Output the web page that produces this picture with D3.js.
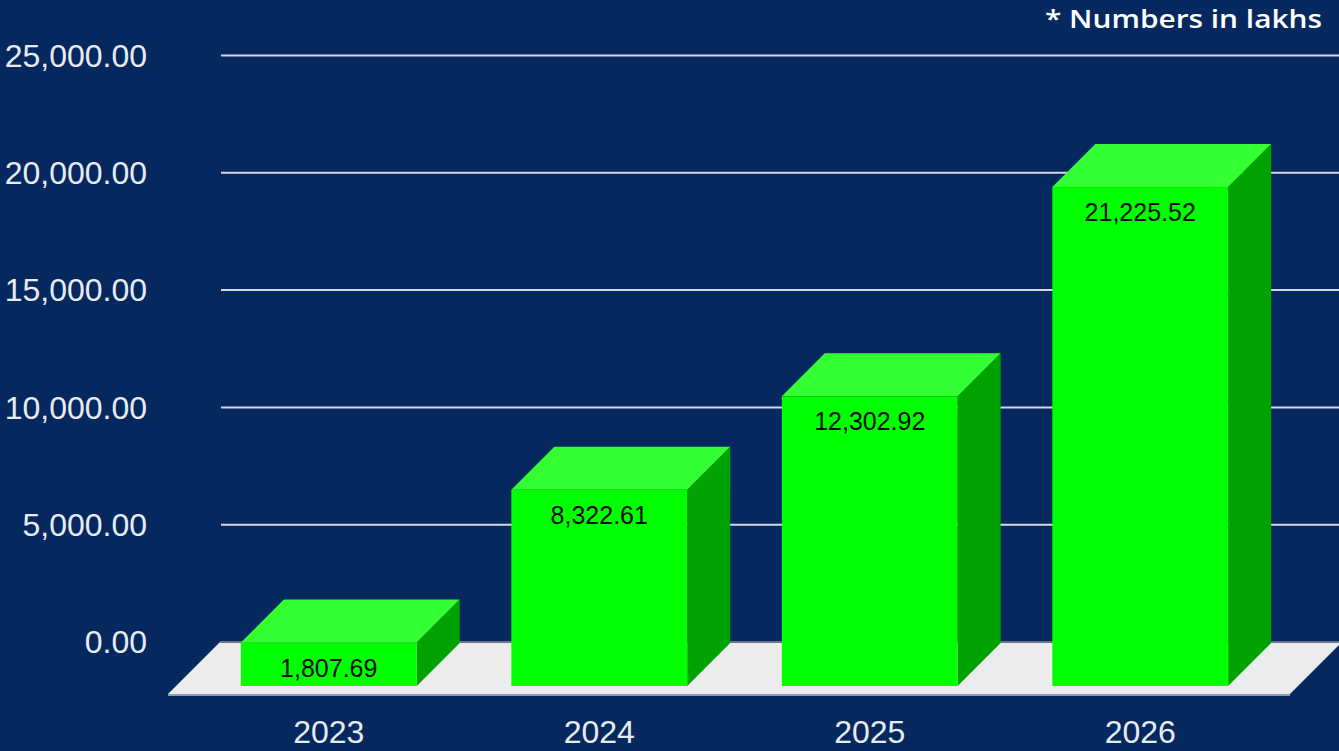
<!DOCTYPE html>
<html lang="en">
<head>
    <meta charset="UTF-8">
    <title>Numbers in lakhs</title>
    <script src="https://d3js.org/d3.v7.min.js"></script>
    <style>
        html, body { margin: 0; padding: 0; background: #05295f; }
        svg { display: block; }
        .tick-label { font-family: "Liberation Sans", Arial, sans-serif; fill: #e8ecf2; }
    </style>
</head>
<body>
    <svg width="1339" height="751"></svg>

    <script>
        const years = ["2023", "2024", "2025", "2026"];
        const values = [1807.69, 8322.61, 12302.92, 21225.52];
        const yTicks = [0, 5000, 10000, 15000, 20000, 25000];

        const svg = d3.select("svg"),
            width = +svg.attr("width"),
            height = +svg.attr("height");

        const depth = 43;   // 3d offset of bar back face
        const floorDepth = 52;

        const y = d3.scaleLinear().domain([0, 25000]).range([642, 55.5]);
        const x = d3.scaleBand().domain(years).range([170, 1299])
            .paddingInner(0.35).paddingOuter(0.262);

        const fmt = d3.format(",.2f");

        svg.append("rect").attr("width", width).attr("height", height).attr("fill", "#05295f");

        // gridlines
        svg.append("g").selectAll("line")
            .data(yTicks.filter(d => d > 0))
            .enter().append("line")
            .attr("x1", 221).attr("x2", width)
            .attr("y1", d => y(d)).attr("y2", d => y(d))
            .attr("stroke", "#d3d9e2")
            .attr("stroke-width", 2);

        // y axis labels
        svg.append("g").selectAll("text")
            .data(yTicks)
            .enter().append("text")
            .attr("class", "tick-label")
            .attr("x", 147)
            .attr("y", d => y(d))
            .attr("dy", "0.35em")
            .attr("text-anchor", "end")
            .style("font-size", "32px")
            .text(d => fmt(d));

        // floor
        const y0 = y(0);
        const fl = x.range()[0], fr = x.range()[1];
        svg.append("path")
            .attr("d", `M${fl - 2},${y0 + floorDepth} L${fr - 9},${y0 + floorDepth} L${fr - 9 + floorDepth},${y0} L${fl + 50},${y0} Z`)
            .attr("fill", "#ececec");
        svg.append("line")
            .attr("x1", fl + 50).attr("x2", width)
            .attr("y1", y0).attr("y2", y0)
            .attr("stroke", "#6b7589").attr("stroke-width", 2);
        svg.append("line")
            .attr("x1", fl - 2).attr("x2", fr - 9)
            .attr("y1", y0 + floorDepth + 1).attr("y2", y0 + floorDepth + 1)
            .attr("stroke", "#8e9bb3").attr("stroke-width", 2);

        // bars
        const bars = svg.append("g").selectAll("g")
            .data(years.map((yr, i) => ({ year: yr, value: values[i] })))
            .enter().append("g");

        // front face coords: x0..x1, top..bottom
        const fx0 = d => x(d.year);
        const fx1 = d => x(d.year) + x.bandwidth();
        const ftop = d => y(d.value) + depth;
        const fbot = y0 + depth + 1;

        bars.append("path") // side
            .attr("d", d => `M${fx1(d)},${ftop(d)} L${fx1(d) + depth},${ftop(d) - depth} L${fx1(d) + depth},${fbot - depth} L${fx1(d)},${fbot} Z`)
            .attr("fill", "#00a200");

        bars.append("path") // top
            .attr("d", d => `M${fx0(d)},${ftop(d)} L${fx0(d) + depth},${ftop(d) - depth} L${fx1(d) + depth},${ftop(d) - depth} L${fx1(d)},${ftop(d)} Z`)
            .attr("fill", "#33ff33");

        bars.append("rect") // front
            .attr("x", fx0)
            .attr("y", ftop)
            .attr("width", x.bandwidth())
            .attr("height", d => fbot - ftop(d))
            .attr("fill", "#00ff00");

        bars.append("text")
            .attr("x", d => x(d.year) + x.bandwidth() / 2)
            .attr("y", d => ftop(d) + 34)
            .attr("text-anchor", "middle")
            .style("font-family", "'Liberation Sans', Arial, sans-serif")
            .style("font-size", "25px")
            .attr("fill", "#051005")
            .text(d => fmt(d.value));

        // x axis labels
        svg.append("g").selectAll("text")
            .data(years)
            .enter().append("text")
            .attr("class", "tick-label")
            .attr("x", d => x(d) + x.bandwidth() / 2)
            .attr("y", 743)
            .attr("text-anchor", "middle")
            .style("font-size", "32px")
            .text(d => d);

        // note
        svg.append("text")
            .attr("x", 1322)
            .attr("y", 28)
            .attr("text-anchor", "end")
            .attr("textLength", 277)
            .attr("lengthAdjust", "spacingAndGlyphs")
            .style("font-family", "'Open Sans', sans-serif")
            .style("font-weight", "600")
            .style("font-size", "26px")
            .attr("fill", "#ffffff")
            .text("* Numbers in lakhs");
    </script>
</body>
</html>
